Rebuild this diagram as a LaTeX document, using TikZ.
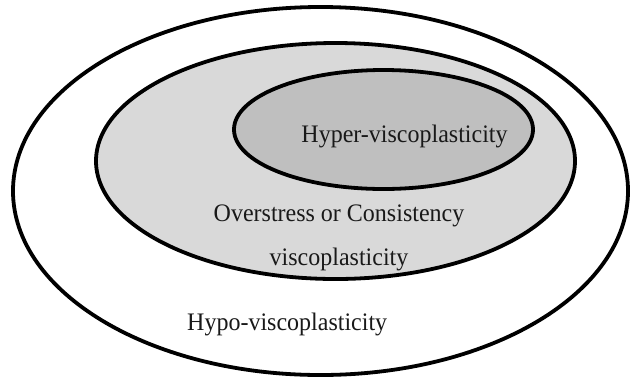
\documentclass[tikz,border=0pt]{standalone}
\usepackage{fontspec}
\setmainfont{Liberation Serif}
\tikzset{
  ring/.style={draw=black, line width=3.8bp},
  lbl/.style={anchor=base, inner sep=0pt, yscale=1.05, transform shape, font=\fontsize{24bp}{28bp}\selectfont, text=black!90}
}
\begin{document}
\begin{tikzpicture}[x=1bp, y=-1bp]
\useasboundingbox (0,0) rectangle (630,381);
\fill[white] (0,0) rectangle (630,381);
% outer
\draw[ring, fill=white] (320.5,191) ellipse [x radius=307.5, y radius=184];
% middle
\draw[ring, fill={rgb,255:red,217;green,217;blue,217}] (335.5,161) ellipse [x radius=239.5, y radius=118];
% inner
\draw[ring, fill={rgb,255:red,191;green,191;blue,191}] (383.5,129.5) ellipse [x radius=149.5, y radius=59.5];
\node[lbl] (hyper) at (404.5,142.5) {Hyper-viscoplasticity};
\node[lbl] (over1) at (339,221.5) {Overstress or Consistency};
\node[lbl] (over2) at (339,265) {viscoplasticity};
\node[lbl, anchor=base west] (hypo) at (187,330) {Hypo-viscoplasticity};
\end{tikzpicture}
\end{document}
